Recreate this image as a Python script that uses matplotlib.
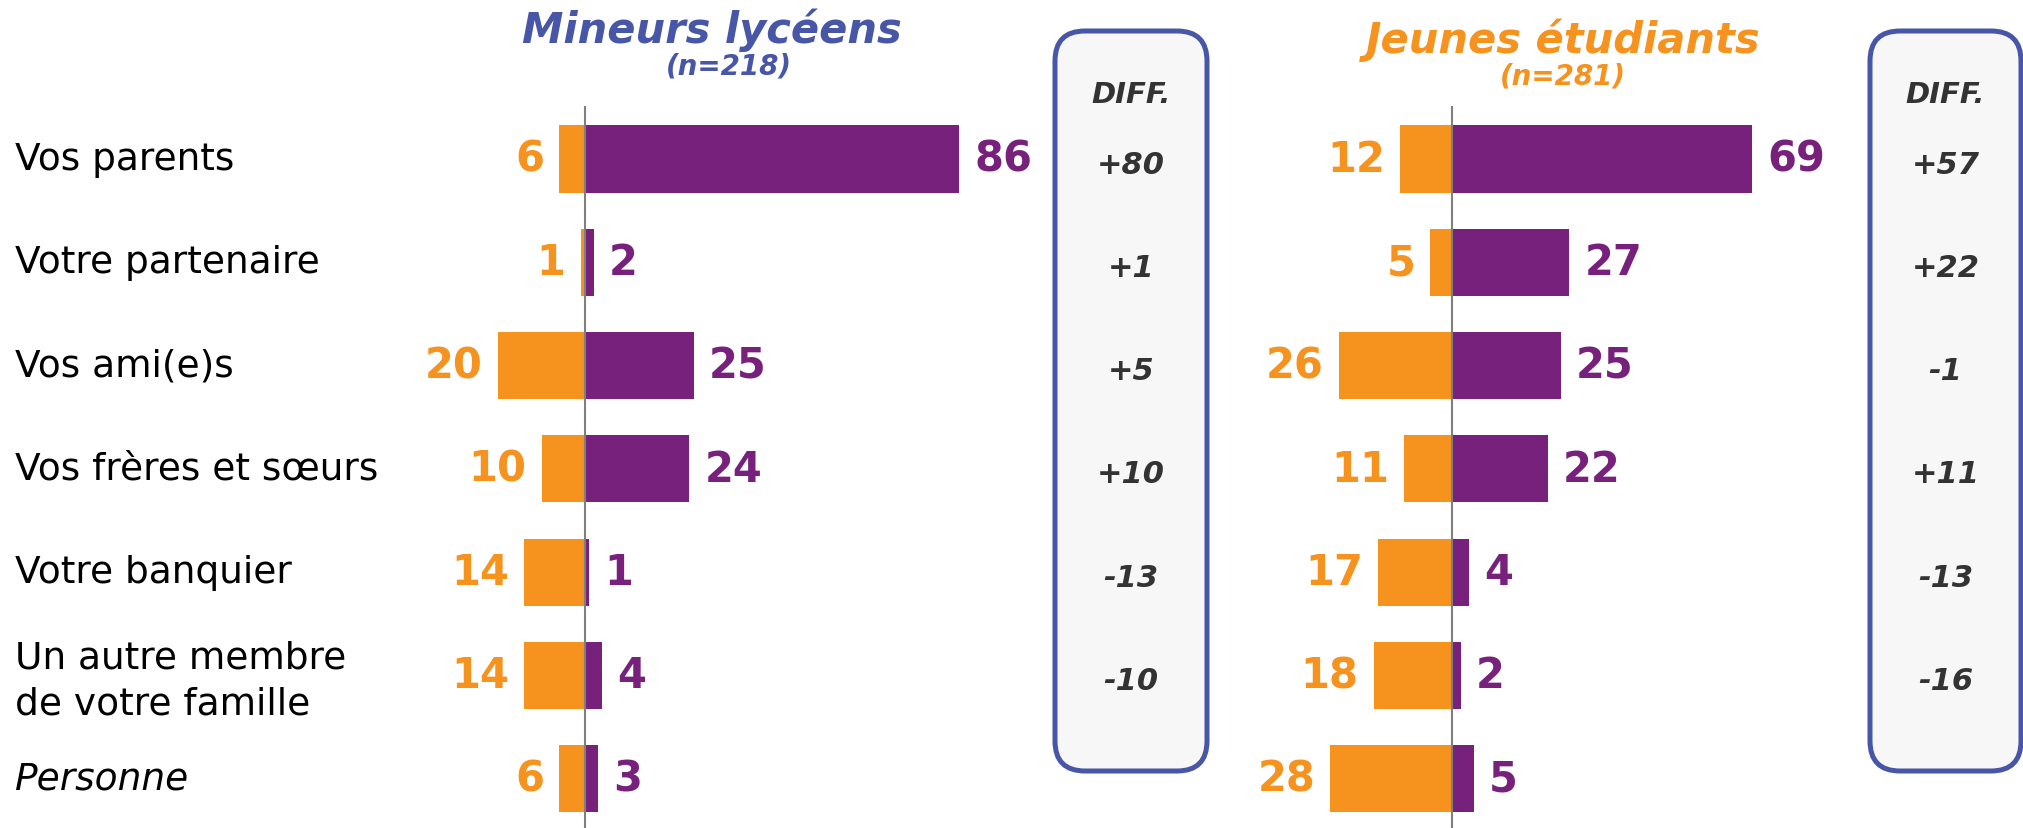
import matplotlib
matplotlib.use("Agg")
import matplotlib.pyplot as plt
from matplotlib.patches import FancyBboxPatch
import matplotlib.transforms as mtransforms

# ---------------- data ----------------
categories = ["Vos parents", "Votre partenaire", "Vos ami(e)s", "Vos frères et sœurs",
              "Votre banquier", "Un autre membre\nde votre famille", "Personne"]
lyc_orange = [6, 1, 20, 10, 14, 14, 6]
lyc_purple = [86, 2, 25, 24, 1, 4, 3]
lyc_diff = ["+80", "+1", "+5", "+10", "-13", "-10"]
etu_orange = [12, 5, 26, 11, 17, 18, 28]
etu_purple = [69, 27, 25, 22, 4, 2, 5]
etu_diff = ["+57", "+22", "-1", "+11", "-13", "-16"]
titles = ["Mineurs lycéens", "Jeunes étudiants"]
subtitles = ["(n=218)", "(n=281)"]

# ---------------- style ----------------
W, H = 2024, 829
ORANGE = "#F6921E"
PURPLE = "#77217D"
BLUE = "#4756A6"
DARK = "#333333"
FONT = "DejaVu Sans"
plt.rcParams["font.family"] = [FONT]

fig = plt.figure(figsize=(W / 100, H / 100), dpi=100)

def fx(x):
    return x / W

def fy(y):
    return 1 - y / H

# overlay axes in pixel coordinates for boxes
ov = fig.add_axes([0, 0, 1, 1], zorder=0)
ov.set_xlim(0, W)
ov.set_ylim(H, 0)
ov.axis("off")

scale = 4.35          # px per unit
xmin, xmax = -45, 95
zeros = [585, 1452]
row0, row_step = 160, 103.3
top_px, bot_px = 107, 829
ytop = -(row0 - top_px) / row_step
ybot = (len(categories) - 1) + (bot_px - (row0 + row_step * (len(categories) - 1))) / row_step

panels = [(lyc_orange, lyc_purple, lyc_diff), (etu_orange, etu_purple, etu_diff)]
box_x = [(1055, 1207), (1870, 2021)]
title_pos = [(712, 30, 729, 66), (1563, 40, 1563, 77)]
title_cols = [BLUE, ORANGE]

for p, (orange, purple, diff) in enumerate(panels):
    z = zeros[p]
    left = z + xmin * scale
    width = (xmax - xmin) * scale
    ax = fig.add_axes([fx(left), 0, width / W, (bot_px - top_px) / H], zorder=2)
    ax.set_xlim(xmin, xmax)
    ax.set_ylim(ybot, ytop)
    ax.axis("off")
    ax.patch.set_alpha(0)
    ys = list(range(len(categories)))
    ax.barh(ys, [-v for v in orange], height=0.65, color=ORANGE, zorder=2)
    ax.barh(ys, purple, height=0.65, color=PURPLE, zorder=2)
    ax.axvline(0, color="#7f7f7f", lw=1.5, zorder=3)
    off = mtransforms.ScaledTranslation(15 / 100, 0, fig.dpi_scale_trans)
    offl = mtransforms.ScaledTranslation(-15 / 100, 0, fig.dpi_scale_trans)
    for i in ys:
        ax.text(-orange[i], i, str(orange[i]), transform=ax.transData + offl,
                ha="right", va="center", color=ORANGE, fontsize=30,
                fontweight="bold", clip_on=False)
        ax.text(purple[i], i, str(purple[i]), transform=ax.transData + off,
                ha="left", va="center", color=PURPLE, fontsize=30,
                fontweight="bold", clip_on=False)

    # diff box
    bx0, bx1 = box_x[p]
    box = FancyBboxPatch((bx0, 32), bx1 - bx0, 740,
                         boxstyle="round,pad=0,rounding_size=30",
                         facecolor="#F7F7F7", edgecolor=BLUE, lw=3.6)
    ov.add_patch(box)
    cx = (bx0 + bx1) / 2
    ov.text(cx, 95, "DIFF.", ha="center", va="center", fontsize=21,
            fontweight="bold", fontstyle="italic", color=DARK)
    btrans = mtransforms.blended_transform_factory(fig.transFigure, ax.transData)
    dshift = mtransforms.ScaledTranslation(0, -5 / 100, fig.dpi_scale_trans)
    for i, d in enumerate(diff):
        ax.text(fx(cx), i, d, transform=btrans + dshift, ha="center", va="center",
                fontsize=22, fontweight="bold", fontstyle="italic", color=DARK,
                clip_on=False)

    tx, ty, sx, sy = title_pos[p]
    fig.text(fx(tx), fy(ty), titles[p], ha="center", va="center", fontsize=30,
             fontweight="bold", fontstyle="italic", color=title_cols[p])
    fig.text(fx(sx), fy(sy), subtitles[p], ha="center", va="center", fontsize=20,
             fontweight="bold", fontstyle="italic", color=title_cols[p])

# category labels
for i, c in enumerate(categories):
    y = row0 + row_step * i
    style = "italic" if c == "Personne" else "normal"
    if "\n" in c:
        y += 5
    fig.text(fx(15), fy(y), c, ha="left", va="center", fontsize=27,
             fontstyle=style, color="black", linespacing=1.34)

fig.savefig("out.png", dpi=100)
